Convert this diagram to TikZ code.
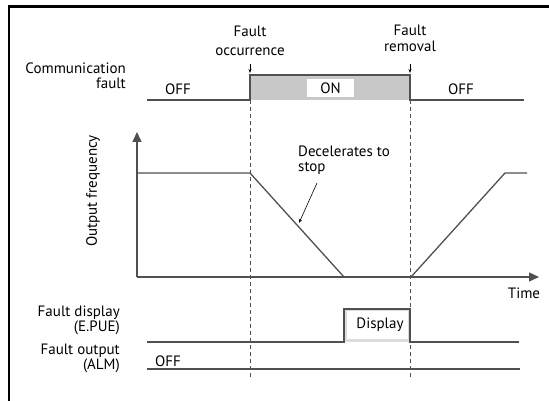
\documentclass[tikz,border=0pt]{standalone}
\usepackage{fontspec}
\setmainfont{PT Sans}
\usetikzlibrary{arrows.meta}
\definecolor{sig}{HTML}{505050}
\definecolor{onfill}{HTML}{C8C8C8}
\definecolor{dispfill}{HTML}{DCDCDC}
\begin{document}
\begin{tikzpicture}[x=1pt,y=-1pt,
  lbl/.style={font=\fontsize{15}{15}\selectfont, inner sep=0pt, align=right, anchor=east},
  txt/.style={font=\fontsize{15}{15}\selectfont, inner sep=0pt},
  sigline/.style={draw=sig, line width=1.3pt},
  dashline/.style={draw=sig, line width=0.7pt, dash pattern=on 4pt off 3pt},
  thinarrow/.style={draw=black, line width=0.6pt, -{Stealth[length=4pt,width=3pt]}},
  axisarrow/.style={draw=sig, line width=1.3pt, -{Triangle[length=10pt,width=9pt]}}]
\useasboundingbox (0,0) rectangle (549,401);
% frame
\draw[line width=2.5pt] (8,6.5) -- (549,6.5);
\draw[line width=2.5pt] (9,5.3) -- (9,401);

% dashed lines
\draw[dashline] (250,100) -- (250,378);
\draw[dashline] (410,100) -- (410,378);

% top labels
\node[txt, align=center, font=\fontsize{15}{19}\selectfont] (occ) at (250,41) {Fault\\occurrence};
\node[txt, align=center, font=\fontsize{15}{16}\selectfont] (rem) at (410,38) {Fault\\removal};
\coordinate (occa) at (250,64);
\coordinate (occb) at (250,73);
\coordinate (rema) at (410,64);
\coordinate (remb) at (410,73);
\draw[thinarrow] (occa) -- (occb);
\draw[thinarrow] (rema) -- (remb);

% communication fault
\node[lbl] (cf) at (126,76) {Communication\\fault};
\fill[onfill] (250,75) rectangle (410,100);
\node[fill=white, minimum width=47pt, minimum height=18pt, inner sep=0pt, font=\fontsize{15}{15}\selectfont] (on) at (330.5,88) {ON\hspace{6pt}};
\draw[sigline] (147,100) -- (250,100) -- (250,75) -- (410,75) -- (410,100) -- (524,100);
\node[txt] (off1) at (178,89) {OFF};
\node[txt] (off2) at (461,89) {OFF};

% output frequency
\node[txt, rotate=90] (of) at (93,191) {Output frequency};
\draw[axisarrow] (137,277) -- (137,132);
\draw[axisarrow] (137,277) -- (539,277);
\draw[sigline] (137,173) -- (250,173) -- (344,277);
\draw[sigline] (411,277) -- (505,173) -- (527,173);
\node[txt] (time) at (524,293) {Time};
\node[txt, align=left, anchor=north west] (dec) at (298,146) {Decelerates to\\stop};
\coordinate (deca) at (317,183);
\coordinate (decb) at (299,223);
\draw[thinarrow] (deca) -- (decb);

% fault display
\node[lbl] (fd) at (120,320) {Fault display\\(E.PUE)};
\fill[dispfill] (344,309) rectangle (410,342);
\node[fill=white, minimum width=61pt, minimum height=28pt, inner sep=0pt, font=\fontsize{15}{15}\selectfont] (disp) at (377,325) {\hspace{6pt}Display};
\draw[sigline] (147,342) -- (344,342) -- (344,309) -- (410,309) -- (410,342) -- (519,342);

% fault output
\node[lbl] (fout) at (120,358) {Fault output\\(ALM)};
\node[txt] (off3) at (168,361) {OFF};
\draw[sigline] (147,369) -- (520,369);
\end{tikzpicture}
\end{document}
